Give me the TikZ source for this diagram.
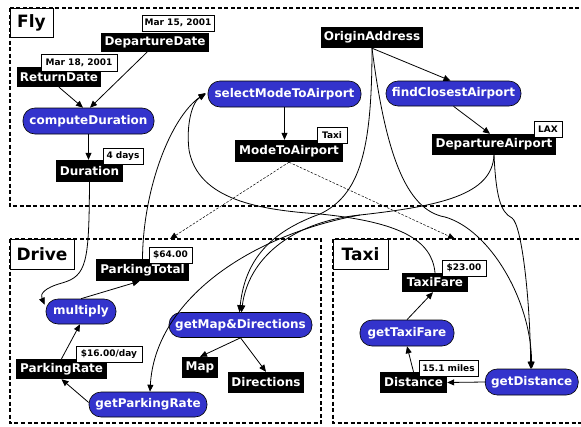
\documentclass[tikz,border=0pt]{standalone}
\usepackage{fontspec}
\setmainfont{DejaVu Sans}
\usetikzlibrary{arrows.meta}
\definecolor{funcblue}{RGB}{51,51,204}
\tikzset{
  datanode/.style={fill=black,text=white,inner sep=0pt,font=\fontsize{12}{13}\selectfont\bfseries},
  funcnode/.style={fill=funcblue,draw=black,line width=0.6pt,text=white,inner sep=0pt,rounded corners=12pt,font=\fontsize{12}{13}\selectfont\bfseries},
  valnode/.style={fill=white,draw=black,line width=0.7pt,inner sep=0pt,font=\fontsize{9}{10}\selectfont\bfseries},
  clusterbox/.style={draw=black,line width=1.6pt,dash pattern=on 4pt off 2.5pt},
  clusterlabel/.style={fill=white,draw=black,line width=0.8pt,inner sep=0pt,font=\fontsize{17}{19}\selectfont\bfseries},
  edge/.style={line width=0.8pt,-{Triangle[length=7pt,width=6pt]}},
  dashedge/.style={line width=0.5pt,dash pattern=on 2.5pt off 1.5pt,-{Triangle[length=7pt,width=6pt]}}
}
\begin{document}
\begin{tikzpicture}[x=1pt,y=-1pt]
\useasboundingbox (0,0) rectangle (581,426);
\fill[white] (0,0) rectangle (581,426);
% cluster labels
\node[clusterlabel,minimum width=43pt,minimum height=29pt] (flylab) at (31.5,22.5) {Fly};
\node[clusterlabel,minimum width=64pt,minimum height=30pt] (drivelab) at (42,254) {Drive};
\node[clusterlabel,minimum width=55pt,minimum height=30pt] (taxilab) at (360.5,254) {Taxi};
% clusters
\draw[clusterbox] (10,8) rectangle (584,206);
\draw[clusterbox] (10,239) rectangle (321,423);
\draw[clusterbox] (333,239) rectangle (584,423);
\coordinate (drivetop) at (170,239);
\coordinate (taxitop) at (455,239);
% data nodes
\node[datanode,minimum width=84pt,minimum height=20pt] (rd) at (59,77) {ReturnDate};
\node[datanode,minimum width=108pt,minimum height=19pt] (dd) at (155,42.5) {DepartureDate};
\node[datanode,minimum width=67pt,minimum height=22pt] (dur) at (89.5,171) {Duration};
\node[datanode,minimum width=108pt,minimum height=22pt] (mta) at (289,151) {ModeToAirport};
\node[datanode,minimum width=102pt,minimum height=21pt] (oa) at (372,37.5) {OriginAddress};
\node[datanode,minimum width=124pt,minimum height=21pt] (da) at (494,144.5) {DepartureAirport};
\node[datanode,minimum width=93pt,minimum height=22pt] (pt) at (142.5,270) {ParkingTotal};
\node[datanode,minimum width=91pt,minimum height=20pt] (pr) at (61.5,369) {ParkingRate};
\node[datanode,minimum width=36pt,minimum height=21pt] (map) at (200,367.5) {Map};
\node[datanode,minimum width=76pt,minimum height=21pt] (dir) at (266,382.5) {Directions};
\node[datanode,minimum width=66pt,minimum height=19pt] (tf) at (435,282.5) {TaxiFare};
\node[datanode,minimum width=67pt,minimum height=21pt] (dist) at (413.5,382.5) {Distance};
% value labels
\node[valnode,minimum width=72pt,minimum height=16pt] (v1) at (178,23) {Mar 15, 2001};
\node[valnode,minimum width=76pt,minimum height=17pt] (v2) at (79,63) {Mar 18, 2001};
\node[valnode,minimum width=40pt,minimum height=16pt] (v3) at (123,156) {4 days};
\node[valnode,minimum width=30pt,minimum height=16pt] (v4) at (332,135) {Taxi};
\node[valnode,minimum width=28pt,minimum height=16pt] (v5) at (548,129) {LAX};
\node[valnode,minimum width=43pt,minimum height=16pt] (v6) at (170.5,255) {\$64.00};
\node[valnode,minimum width=66pt,minimum height=16pt] (v7) at (109,354) {\$16.00/day};
\node[valnode,minimum width=44pt,minimum height=16pt] (v8) at (464,268) {\$23.00};
\node[valnode,minimum width=59pt,minimum height=16pt] (v9) at (448.5,368) {15.1 miles};
% function nodes
\node[funcnode,minimum width=131pt,minimum height=26pt] (cd) at (88.5,121) {computeDuration};
\node[funcnode,minimum width=153pt,minimum height=26pt] (sm) at (284.5,94) {selectModeToAirport};
\node[funcnode,minimum width=135pt,minimum height=25pt] (fca) at (453.5,93.5) {findClosestAirport};
\node[funcnode,minimum width=70pt,minimum height=25pt] (mult) at (81,311.5) {multiply};
\node[funcnode,minimum width=118pt,minimum height=25pt] (gpr) at (148,404.5) {getParkingRate};
\node[funcnode,minimum width=143pt,minimum height=25pt] (gmd) at (240.5,325) {getMap\&Directions};
\node[funcnode,minimum width=94pt,minimum height=26pt] (gtf) at (407,333) {getTaxiFare};
\node[funcnode,minimum width=93pt,minimum height=26pt] (gd) at (531.7,382) {getDistance};
% edges
\draw[edge] (rd.south) -- ([xshift=-5.5pt]cd.north);
\draw[edge] ([xshift=-8pt]dd.south) -- ([xshift=1.5pt]cd.north);
\draw[edge] (cd.south) -- (cd.south |- dur.north);
\draw[edge] (dur.south) .. controls (89,262) and (87,276) .. (62,283) .. controls (44,288) and (40,294) .. ([shift={(-1pt,-6pt)}]mult.north west);
\draw[edge] (mult.north) -- ([xshift=-3pt]pt.south);
\draw[edge] (pr.north) -- ([xshift=-1pt]mult.south);
\draw[edge] ([yshift=2pt]gpr.west) -- (pr.south);
\draw[edge] (gmd.south) -- (map.north);
\draw[edge] (gmd.south) -- (dir.north);
\draw[edge] (gd.west) -- (dist.east);
\draw[edge] (dist.north) -- (gtf.south);
\draw[edge] (gtf.north) -- ([xshift=-2pt]tf.south);
\draw[edge] (oa.south) -- ([xshift=-3pt]fca.north);
\draw[edge] (fca.south) -- ([xshift=-4pt]da.north);
\draw[edge] (sm.south) -- (sm.south |- mta.north);
\draw[dashedge] (mta.south) -- (drivetop);
\draw[dashedge] (mta.south) -- (taxitop);
\draw[edge] (pt.north) .. controls (143,190) and (170,118) .. ([shift={(-2pt,1pt)}]sm.west);
\draw[edge] (tf.north) .. controls (432,240) and (400,222) .. (320,214) .. controls (260,210) and (198,200) .. (189,150) .. controls (186,125) and (192,102) .. ([xshift=-2pt]sm.west);
\draw[edge] (oa.south) .. controls (372,150) and (360,195) .. (320,214) .. controls (270,232) and (245,260) .. ([xshift=-1pt]gmd.north);
\draw[edge] (da.south) .. controls (492,195) and (440,206) .. (360,215) .. controls (290,222) and (248,260) .. ([xshift=1pt]gmd.north);
\draw[edge] (360,215) .. controls (250,235) and (155,300) .. ([xshift=2pt]gpr.north);
\draw[edge] (oa.south) .. controls (385,150) and (405,210) .. (445,217) .. controls (490,230) and (531,300) .. (gd.north);
\draw[edge] (da.south) .. controls (496,195) and (500,212) .. (512,218) .. controls (522,225) and (530,300) .. ([xshift=-1pt]gd.north);
\end{tikzpicture}
\end{document}
